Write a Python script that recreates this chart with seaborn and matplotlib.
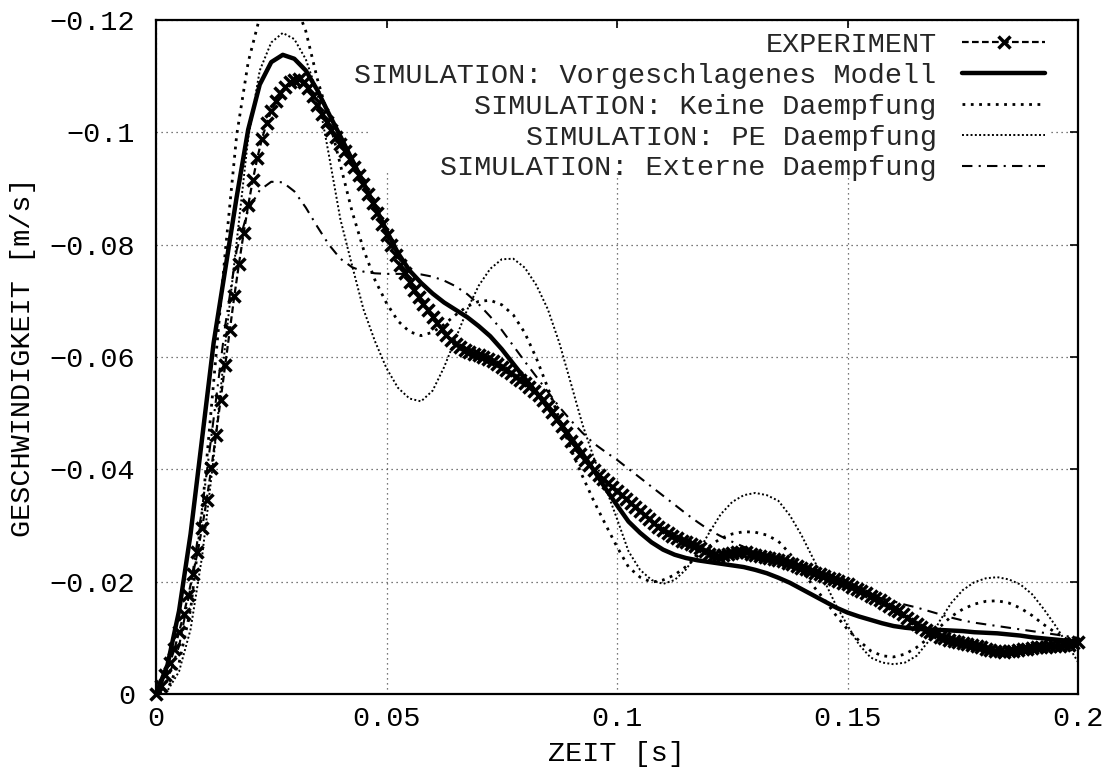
import numpy as np
import seaborn as sns
import matplotlib.pyplot as plt
from matplotlib.patches import Rectangle

# time bases [s]
t_exp = np.round(np.arange(0, 201) * 0.001, 4)
t_sim = np.round(np.arange(0, 81) * 0.0025, 4)

# EXPERIMENT, velocity [m/s], every 1 ms
v_exp = [
    0, -0.0015, -0.0033, -0.0055, -0.0080, -0.0110, -0.0142, -0.0176, -0.0213, -0.0252,
    -0.0296, -0.0346, -0.0402, -0.0461, -0.0523, -0.0586, -0.0648, -0.0709, -0.0766, -0.0820,
    -0.0870, -0.0915, -0.0955, -0.0989, -0.1016, -0.1038, -0.1056, -0.1070, -0.1081, -0.1089,
    -0.1094, -0.1095, -0.1090, -0.1079, -0.1064, -0.1048, -0.1033, -0.1019, -0.1005, -0.0992,
    -0.0980, -0.0967, -0.0953, -0.0939, -0.0924, -0.0908, -0.0891, -0.0874, -0.0856, -0.0837,
    -0.0818, -0.0799, -0.0781, -0.0764, -0.0749, -0.0734, -0.0720, -0.0707, -0.0695, -0.0683,
    -0.0671, -0.0660, -0.0650, -0.0640, -0.0631, -0.0623, -0.0617, -0.0612, -0.0609, -0.0606,
    -0.0603, -0.0600, -0.0597, -0.0593, -0.0588, -0.0583, -0.0577, -0.0571, -0.0565, -0.0559,
    -0.0553, -0.0547, -0.0540, -0.0532, -0.0523, -0.0513, -0.0502, -0.0490, -0.0477, -0.0464,
    -0.0451, -0.0439, -0.0428, -0.0417, -0.0407, -0.0398, -0.0390, -0.0382, -0.0375, -0.0368,
    -0.0361, -0.0354, -0.0347, -0.0340, -0.0333, -0.0326, -0.0319, -0.0312, -0.0305, -0.0298,
    -0.0292, -0.0286, -0.0281, -0.0277, -0.0273, -0.0270, -0.0267, -0.0264, -0.0260, -0.0255,
    -0.0250, -0.0247, -0.0246, -0.0247, -0.0249, -0.0251, -0.0253, -0.0253, -0.0252, -0.0250,
    -0.0248, -0.0246, -0.0244, -0.0242, -0.0240, -0.0238, -0.0236, -0.0234, -0.0231, -0.0228,
    -0.0225, -0.0222, -0.0219, -0.0216, -0.0213, -0.0210, -0.0207, -0.0204, -0.0201, -0.0198,
    -0.0195, -0.0191, -0.0187, -0.0183, -0.0179, -0.0175, -0.0171, -0.0167, -0.0162, -0.0157,
    -0.0152, -0.0147, -0.0142, -0.0136, -0.0130, -0.0124, -0.0119, -0.0114, -0.0110, -0.0106,
    -0.0102, -0.0099, -0.0097, -0.0095, -0.0093, -0.0091, -0.0089, -0.0087, -0.0085, -0.0083,
    -0.0081, -0.0079, -0.0077, -0.0076, -0.0075, -0.0076, -0.0077, -0.0079, -0.0080, -0.0081,
    -0.0082, -0.0083, -0.0083, -0.0084, -0.0085, -0.0085, -0.0086, -0.0087, -0.0088, -0.0090,
    -0.0093,
]

# simulations, every 2.5 ms
v_modell = [
    0, -0.0052, -0.0148, -0.0285, -0.0455, -0.0625, -0.0755, -0.0885, -0.1005, -0.1085,
    -0.1125, -0.1138, -0.1131, -0.1110, -0.1075, -0.1033, -0.0993, -0.0952, -0.0910, -0.0868,
    -0.0825, -0.0785, -0.0754, -0.0732, -0.0713, -0.0697, -0.0684, -0.0671, -0.0655, -0.0637,
    -0.0614, -0.0588, -0.0562, -0.0537, -0.0510, -0.0484, -0.0456, -0.0428, -0.0398, -0.0366,
    -0.0336, -0.0307, -0.0287, -0.0270, -0.0257, -0.0248, -0.0242, -0.0238, -0.0235, -0.0232,
    -0.0229, -0.0226, -0.0221, -0.0215, -0.0207, -0.0198, -0.0187, -0.0176, -0.0165, -0.0154,
    -0.0145, -0.0138, -0.0132, -0.0126, -0.0121, -0.0118, -0.0116, -0.0115, -0.0114, -0.0113,
    -0.0112, -0.0110, -0.0109, -0.0108, -0.0106, -0.0104, -0.0101, -0.0099, -0.0097, -0.0095,
    -0.0093,
]
v_keine = [
    0, -0.0008, -0.0055, -0.0150, -0.0325, -0.0555, -0.0785, -0.0995, -0.1125, -0.1205,
    -0.1245, -0.1258, -0.1235, -0.1180, -0.1095, -0.1025, -0.0942, -0.0860, -0.0792, -0.0737,
    -0.0696, -0.0664, -0.0645, -0.0638, -0.0644, -0.0658, -0.0675, -0.0690, -0.0699, -0.0701,
    -0.0693, -0.0675, -0.0643, -0.0598, -0.0545, -0.0490, -0.0436, -0.0388, -0.0343, -0.0302,
    -0.0262, -0.0226, -0.0208, -0.0199, -0.0203, -0.0212, -0.0227, -0.0246, -0.0263, -0.0277,
    -0.0285, -0.0289, -0.0288, -0.0283, -0.0272, -0.0250, -0.0221, -0.0193, -0.0168, -0.0140,
    -0.0115, -0.0095, -0.0077, -0.0068, -0.0066, -0.0071, -0.0083, -0.0099, -0.0119, -0.0138,
    -0.0151, -0.0160, -0.0165, -0.0166, -0.0162, -0.0153, -0.0140, -0.0124, -0.0110, -0.0098,
    -0.0091,
]
v_pe = [
    0, -0.0006, -0.0040, -0.0115, -0.0245, -0.0420, -0.0620, -0.0805, -0.0990, -0.1110,
    -0.1160, -0.1177, -0.1166, -0.1130, -0.1070, -0.0960, -0.0845, -0.0764, -0.0685, -0.0628,
    -0.0580, -0.0545, -0.0526, -0.0521, -0.0540, -0.0582, -0.0633, -0.0684, -0.0727, -0.0757,
    -0.0774, -0.0775, -0.0759, -0.0728, -0.0685, -0.0625, -0.0553, -0.0480, -0.0420, -0.0368,
    -0.0312, -0.0254, -0.0221, -0.0203, -0.0196, -0.0203, -0.0222, -0.0252, -0.0287, -0.0320,
    -0.0342, -0.0354, -0.0358, -0.0354, -0.0344, -0.0318, -0.0283, -0.0242, -0.0201, -0.0158,
    -0.0122, -0.0088, -0.0065, -0.0056, -0.0053, -0.0056, -0.0068, -0.0093, -0.0130, -0.0162,
    -0.0185, -0.0199, -0.0206, -0.0208, -0.0204, -0.0195, -0.0178, -0.0152, -0.0123, -0.0091,
    -0.0057,
]
v_extern = [
    0, -0.0025, -0.0085, -0.0190, -0.0330, -0.0490, -0.0655, -0.0790, -0.0862, -0.0897,
    -0.0912, -0.0911, -0.0895, -0.0866, -0.0832, -0.0800, -0.0775, -0.0760, -0.0752, -0.0749,
    -0.0748, -0.0748, -0.0748, -0.0747, -0.0743, -0.0736, -0.0726, -0.0712, -0.0694, -0.0672,
    -0.0648, -0.0620, -0.0592, -0.0565, -0.0538, -0.0511, -0.0487, -0.0465, -0.0446, -0.0431,
    -0.0417, -0.0401, -0.0385, -0.0369, -0.0353, -0.0337, -0.0321, -0.0306, -0.0292, -0.0281,
    -0.0271, -0.0262, -0.0253, -0.0245, -0.0237, -0.0229, -0.0221, -0.0213, -0.0205, -0.0197,
    -0.0189, -0.0182, -0.0176, -0.0170, -0.0165, -0.0159, -0.0154, -0.0148, -0.0142, -0.0136,
    -0.0131, -0.0127, -0.0124, -0.0121, -0.0118, -0.0115, -0.0112, -0.0109, -0.0106, -0.0103,
    -0.0100,
]

xticks = [0, 0.05, 0.1, 0.15, 0.2]
xtick_labels = ['0', '0.05', '0.1', '0.15', '0.2']
yticks = [0, -0.02, -0.04, -0.06, -0.08, -0.1, -0.12]
ytick_labels = ['0', '\u22120.02', '\u22120.04', '\u22120.06', '\u22120.08', '\u22120.1', '\u22120.12']

sns.set_theme(style='white')
plt.rcParams['font.family'] = ['Liberation Mono', 'DejaVu Sans Mono']
plt.rcParams['axes.unicode_minus'] = True

fig = plt.figure(figsize=(11.13, 7.78), dpi=100)
ax = fig.add_axes([156 / 1113, 84 / 778, 922 / 1113, 674 / 778])

# opaque key area (gnuplot style) hides the grid behind the legend
ax.add_patch(Rectangle((0.23, 0.773), 0.74, 0.215, transform=ax.transAxes,
                       facecolor='white', edgecolor='none', zorder=1))

sns.lineplot(x=t_exp, y=v_exp, ax=ax, color='black', lw=1.6, linestyle=(0, (3, 1.5)),
             marker='x', ms=8.5, mew=2.5, mec='black', label='EXPERIMENT', clip_on=False, zorder=3)
sns.lineplot(x=t_sim, y=v_modell, ax=ax, color='black', lw=3.2,
             label='SIMULATION: Vorgeschlagenes Modell', zorder=2.8)
sns.lineplot(x=t_sim, y=v_keine, ax=ax, color='black', lw=2.0, linestyle=(0, (1, 2)),
             label='SIMULATION: Keine Daempfung')
sns.lineplot(x=t_sim, y=v_pe, ax=ax, color='black', lw=1.4, linestyle=(0, (1, 1.2)),
             label='SIMULATION: PE Daempfung')
sns.lineplot(x=t_sim, y=v_extern, ax=ax, color='black', lw=1.5, linestyle=(0, (5, 3, 1, 3)),
             label='SIMULATION: Externe Daempfung')

ax.set_xlim(0, 0.2)
ax.set_ylim(0, -0.12)
ax.set_xticks(xticks)
ax.set_xticklabels(xtick_labels)
ax.set_yticks(yticks)
ax.set_yticklabels(ytick_labels)
ax.set_axisbelow(True)
ax.grid(True, color='0.3', linestyle=(0, (1, 3)), lw=0.9)
ax.tick_params(direction='in', length=6, width=1.2, top=True, right=True,
               labelsize=20.5, colors='black', pad=9)
ax.tick_params(axis='y', pad=15)
for s in ax.spines.values():
    s.set_linewidth(1.6)
    s.set_color('black')

ax.set_xlabel('ZEIT [s]', fontsize=20.5, color='black')
ax.set_ylabel('GESCHWINDIGKEIT [m/s]', fontsize=20.5, color='black')
ax.xaxis.set_label_coords(0.5, -0.07)
ax.yaxis.set_label_coords(-0.13, 0.5)

ax.legend(loc='upper right', bbox_to_anchor=(0.964, 0.982), frameon=False, fontsize=20.5,
          markerfirst=False, handlelength=2.9, handletextpad=0.9, labelspacing=0.17,
          borderpad=0, borderaxespad=0)

fig.savefig('out.png', dpi=100)
